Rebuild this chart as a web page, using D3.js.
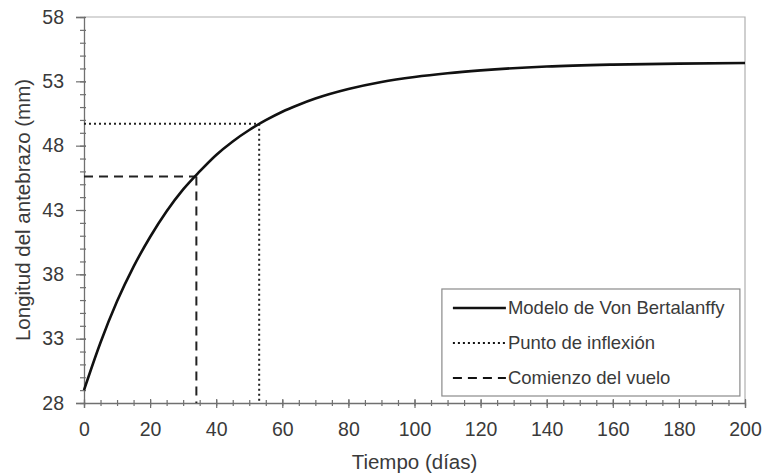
<!DOCTYPE html>
<html>
<head>
<meta charset="utf-8">
<script src="https://cdn.jsdelivr.net/npm/d3@7"></script>
<style>
  body { margin: 0; background: #fff; }
  svg { display: block; font-family: "Liberation Sans", Arial, sans-serif; }
</style>
</head>
<body>
<div id="chart-container"></div>
<script>
// Curve: time (days) and forearm length (mm)
const days = [0, 5, 10, 15, 20, 25, 30, 35, 40, 45, 50, 55, 60, 65, 70, 80, 90, 100, 110, 120, 140, 160, 180, 200];
const lengths = [29.0, 32.7, 35.9, 38.6, 40.9, 42.9, 44.6, 46.0, 47.28, 48.33, 49.22, 49.98, 50.64, 51.18, 51.66, 52.4, 52.95, 53.34, 53.63, 53.85, 54.15, 54.3, 54.38, 54.42];

// Reference points
const inflection = { day: 53, length: 49.7 };
const flightStart = { day: 34, length: 45.6 };

const xTicks = [0, 20, 40, 60, 80, 100, 120, 140, 160, 180, 200];
const yTicks = [28, 33, 38, 43, 48, 53, 58];
const legendLabels = ["Modelo de Von Bertalanffy", "Punto de inflexión", "Comienzo del vuelo"];

(function () {
    const W = 765, H = 474;
    const margin = { top: 17, right: 20, bottom: 71, left: 84 };
    const width = W - margin.left - margin.right;
    const height = H - margin.top - margin.bottom;

    const x = d3.scaleLinear().domain([0, 200]).range([0, width]);
    const y = d3.scaleLinear().domain([28, 58]).range([height, 0]);

    const svg = d3.select("#chart-container")
        .append("svg")
        .attr("width", W)
        .attr("height", H)
        .append("g")
        .attr("transform", `translate(${margin.left},${margin.top})`);

    const textColor = "#3a3a3a";
    const axisColor = "#707070";

    // frame (top / right)
    svg.append("path")
        .attr("d", `M0,0H${width}V${height}`)
        .attr("fill", "none")
        .attr("stroke", "#b0b0b0")
        .attr("stroke-width", 1.2);

    // minor ticks
    const xMinor = d3.range(0, 201, 5);
    const yMinor = d3.range(28, 59, 1);

    function styleAxis(g) {
        g.select(".domain").remove();
        g.selectAll("line").attr("stroke", axisColor).attr("stroke-width", 1.2);
    }

    svg.append("g").attr("transform", `translate(0,${height})`)
        .call(d3.axisBottom(x).tickValues(xMinor).tickSize(3).tickFormat(""))
        .call(styleAxis);
    svg.append("g").attr("transform", `translate(0,${height})`)
        .call(d3.axisBottom(x).tickValues(xMinor).tickSize(-3).tickFormat(""))
        .call(styleAxis);
    svg.append("g")
        .call(d3.axisLeft(y).tickValues(yMinor).tickSize(4).tickFormat(""))
        .call(styleAxis);
    svg.append("g")
        .call(d3.axisLeft(y).tickValues(yMinor).tickSize(-2).tickFormat(""))
        .call(styleAxis);

    // major ticks with labels
    const xAxis = svg.append("g").attr("transform", `translate(0,${height})`)
        .call(d3.axisBottom(x).tickValues(xTicks).tickSize(5).tickPadding(14));
    xAxis.select(".domain").attr("stroke", axisColor).attr("stroke-width", 1.3);
    xAxis.selectAll("line").attr("stroke", axisColor).attr("stroke-width", 1.2).attr("y1", -4);
    xAxis.selectAll("text").attr("fill", textColor).style("font-size", "19.5px");

    const yAxis = svg.append("g")
        .call(d3.axisLeft(y).tickValues(yTicks).tickSize(8).tickPadding(12));
    yAxis.select(".domain").attr("stroke", axisColor).attr("stroke-width", 1.3);
    yAxis.selectAll("line").attr("stroke", axisColor).attr("stroke-width", 1.2).attr("x1", 2);
    yAxis.selectAll("text").attr("fill", textColor).style("font-size", "19.5px");

    // reference lines
    function refLines(p, dash) {
        const g = svg.append("g")
            .attr("fill", "none")
            .attr("stroke", "#222")
            .attr("stroke-width", 2)
            .attr("stroke-dasharray", dash);
        g.append("line")
            .attr("x1", x(0)).attr("x2", x(p.day))
            .attr("y1", y(p.length)).attr("y2", y(p.length));
        g.append("line")
            .attr("x1", x(p.day)).attr("x2", x(p.day))
            .attr("y1", y(p.length)).attr("y2", y(28));
    }
    refLines(inflection, "2,3");
    refLines(flightStart, "9,6");

    // model curve
    const curveData = days.map((d, i) => ({ day: d, length: lengths[i] }));
    const line = d3.line()
        .x(d => x(d.day))
        .y(d => y(d.length))
        .curve(d3.curveMonotoneX);

    svg.append("path")
        .datum(curveData)
        .attr("fill", "none")
        .attr("stroke", "#111")
        .attr("stroke-width", 2.6)
        .attr("d", line);

    // axis titles
    svg.append("text")
        .attr("x", width / 2)
        .attr("y", height + 66)
        .attr("text-anchor", "middle")
        .attr("fill", textColor)
        .style("font-size", "20.5px")
        .text("Tiempo (días)");

    svg.append("text")
        .attr("transform", `translate(${-54},${height / 2}) rotate(-90)`)
        .attr("text-anchor", "middle")
        .attr("fill", textColor)
        .style("font-size", "20.5px")
        .text("Longitud del antebrazo (mm)");

    // legend
    const legend = svg.append("g").attr("transform", `translate(${x(180) - 237},${y(28) - 114})`);
    legend.append("rect")
        .attr("width", 298)
        .attr("height", 107)
        .attr("fill", "#fff")
        .attr("stroke", "#8a8a8a")
        .attr("stroke-width", 1.2);

    const legendDash = [null, "2,3", "9,6"];
    const legendWidth = [2.6, 2, 2];
    legendLabels.forEach((label, i) => {
        const row = legend.append("g").attr("transform", `translate(0,${19 + i * 35})`);
        row.append("line")
            .attr("x1", 11).attr("x2", 64)
            .attr("stroke", "#111")
            .attr("stroke-width", legendWidth[i])
            .attr("stroke-dasharray", legendDash[i]);
        row.append("text")
            .attr("x", 66)
            .attr("dy", "0.35em")
            .attr("fill", textColor)
            .style("font-size", "18.5px")
            .text(label);
    });
})();
</script>
</body>
</html>
